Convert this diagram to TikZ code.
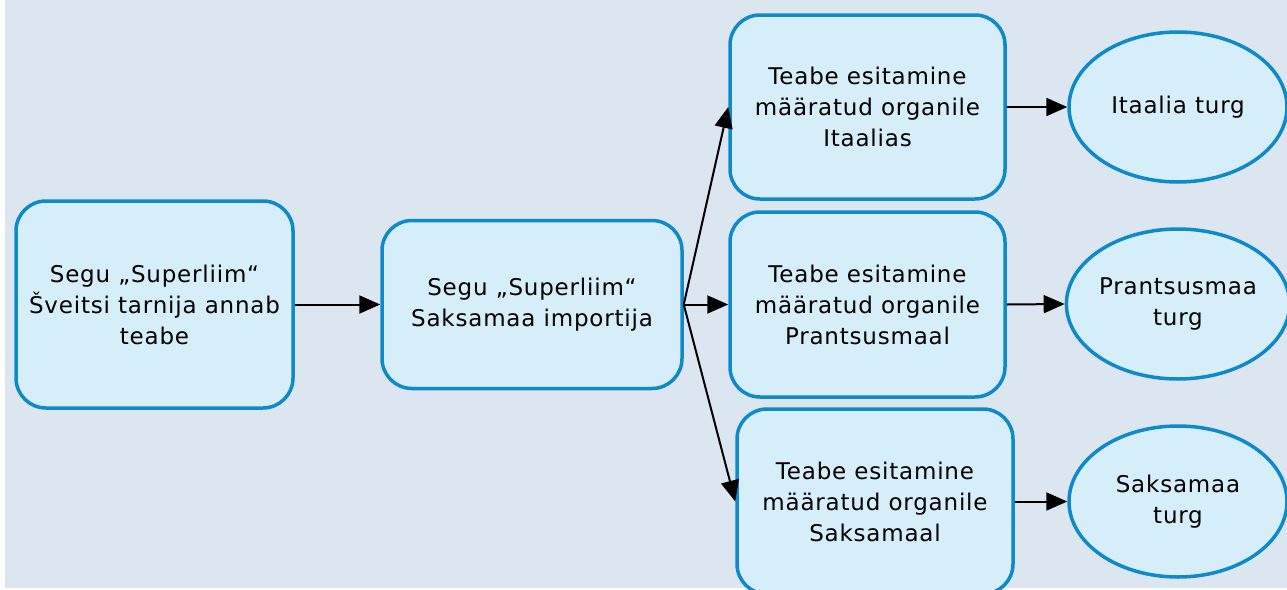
\documentclass[tikz,border=0pt]{standalone}
\usepackage{fontspec}
\setmainfont[LetterSpace=3.5]{DejaVu Sans}
\usetikzlibrary{shapes.geometric,arrows.meta}
\definecolor{pagebg}{HTML}{DCE6F1}
\definecolor{boxfill}{HTML}{D6EDFA}
\definecolor{boxline}{HTML}{0E8ACB}
\tikzset{
  x=1pt, y=-1pt,
  stepbox/.style={draw=boxline, fill=boxfill, line width=3.5pt, rounded corners=30pt,
    align=center, font=\fontsize{23}{31}\selectfont, inner sep=0pt},
  market/.style={ellipse, draw=boxline, fill=boxfill, line width=3.5pt,
    align=center, font=\fontsize{23}{31}\selectfont, inner sep=0pt},
  flow/.style={line width=2pt, -{Triangle[length=21pt,width=18pt]}}
}
\begin{document}
\begin{tikzpicture}
\useasboundingbox (0,0) rectangle (1287,589);
\fill[white] (0,0) rectangle (1287,589);
\fill[pagebg] (5,0) rectangle (1287,588);
\begin{scope}
\clip (0,0) rectangle (1287,589);
\node[stepbox, minimum width=277pt, minimum height=207pt] (supplier) at (154.5,304.5)
  {Segu „Superliim“\\Šveitsi tarnija annab\\teabe};
\node[stepbox, minimum width=300pt, minimum height=168pt] (importer) at (532,304.5)
  {Segu „Superliim“\\Saksamaa importija};
\node[stepbox, minimum width=275pt, minimum height=184pt] (italyorg) at (867.5,107)
  {Teabe esitamine\\määratud organile\\Itaalias};
\node[stepbox, minimum width=275pt, minimum height=185pt] (franceorg) at (867.5,304.5)
  {Teabe esitamine\\määratud organile\\Prantsusmaal};
\node[stepbox, minimum width=276pt, minimum height=185pt] (germanyorg) at (875,501.5)
  {Teabe esitamine\\määratud organile\\Saksamaal};
\node[market, minimum width=218pt, minimum height=150pt] (italy) at (1178,107)
  {Itaalia turg};
\node[market, minimum width=218pt, minimum height=150pt] (france) at (1178,304)
  {Prantsusmaa\\turg};
\node[market, minimum width=218pt, minimum height=151pt] (germany) at (1178,501.5)
  {Saksamaa\\turg};
\end{scope}
\draw[flow] (supplier.east) -- (importer.west);
\draw[flow] (importer.east) -- (italyorg.west);
\draw[flow] (importer.east) -- (franceorg.west);
\draw[flow] (importer.east) -- (germanyorg.west);
\draw[flow] (italyorg.east) -- (italy.west);
\draw[flow] (franceorg.east) -- (france.west);
\draw[flow] (germanyorg.east) -- (germany.west);
\end{tikzpicture}
\end{document}
